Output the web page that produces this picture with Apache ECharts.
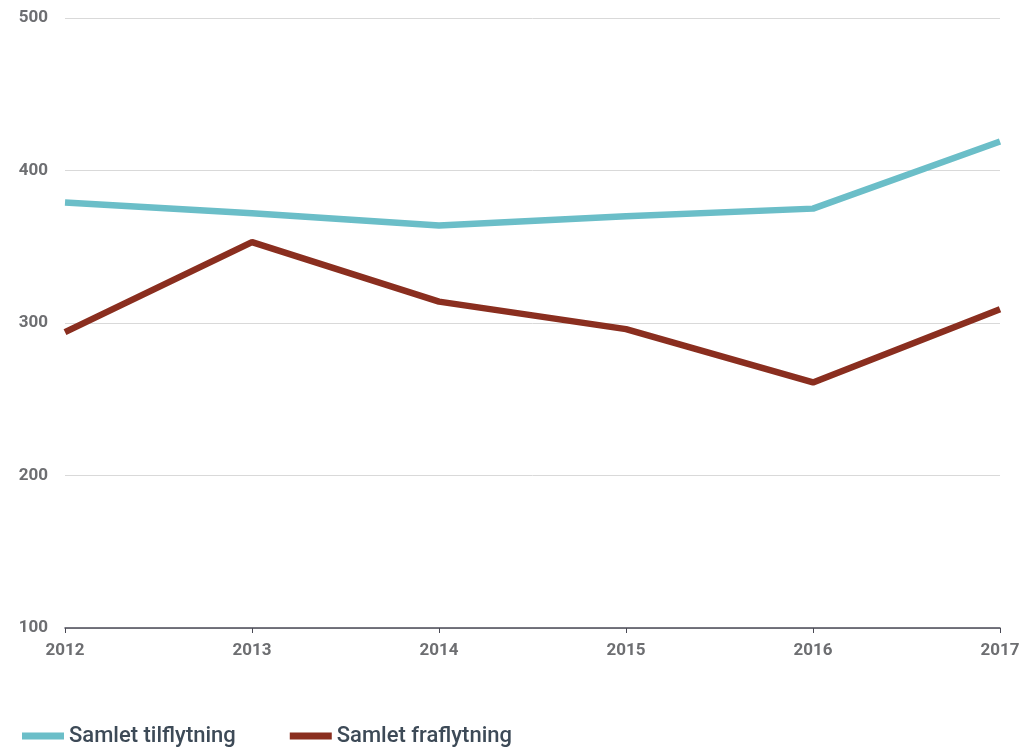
<!DOCTYPE html>
<html>
<head>
<meta charset="utf-8">
<script src="https://cdn.jsdelivr.net/npm/echarts@6/dist/echarts.min.js"></script>
<style>
html,body{margin:0;padding:0;background:#fff;}
#chart{width:1033px;height:752px;}
</style>
</head>
<body>
<div id="chart"></div>
<script>
const years = ['2012','2013','2014','2015','2016','2017'];
const tilflytning = [379, 372, 364, 370, 375, 419];
const fraflytning = [294, 353, 314, 296, 261, 309];
const seriesNames = ['Samlet tilflytning', 'Samlet fraflytning'];

const chart = echarts.init(document.getElementById('chart'));
chart.setOption({
  animation: false,
  grid: {left: 65, right: 33, top: 18, bottom: 124, containLabel: false},
  legend: {
    left: 17, bottom: 0,
    itemWidth: 42, itemHeight: 7, itemGap: 54,
    icon: 'rect',
    textStyle: {fontFamily: 'Roboto', fontSize: 22, fontWeight: 500, color: '#3d4a57'},
    data: seriesNames
  },
  xAxis: {
    type: 'category', boundaryGap: false, data: years,
    axisLine: {lineStyle: {color: '#4a4a55', width: 1.5}},
    axisTick: {show: true, length: 5, alignWithLabel: true, lineStyle: {color: '#4a4a55'}},
    axisLabel: {fontFamily: 'Roboto', fontWeight: 'bold', fontSize: 17, color: '#6d6e71', margin: 14}
  },
  yAxis: {
    type: 'value', min: 100, max: 500, interval: 100,
    axisLine: {show: false}, axisTick: {show: false},
    splitLine: {lineStyle: {color: '#d9d9d9', width: 1}},
    axisLabel: {fontFamily: 'Roboto', fontWeight: 'bold', fontSize: 17, color: '#6d6e71', margin: 17}
  },
  series: [
    {name: seriesNames[0], type: 'line', data: tilflytning, symbol: 'none',
     lineStyle: {color: '#6bbec8', width: 6.5}, itemStyle: {color: '#6bbec8'}},
    {name: seriesNames[1], type: 'line', data: fraflytning, symbol: 'none',
     lineStyle: {color: '#8a2e1f', width: 6.5}, itemStyle: {color: '#8a2e1f'}}
  ]
});
</script>
</body>
</html>
